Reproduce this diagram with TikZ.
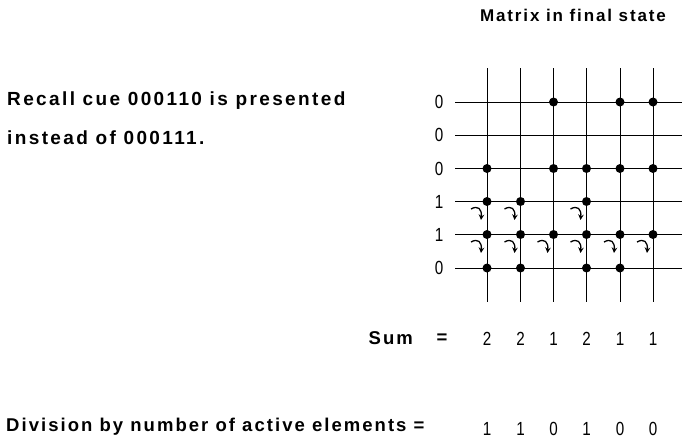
\documentclass[tikz,border=0pt]{standalone}
\usepackage{fontspec}
\setmainfont{Liberation Sans}
\newfontfamily\numfont[FakeStretch=0.8]{Liberation Sans}
\newfontfamily\boldA[LetterSpace=12.5]{Liberation Sans Bold}
\newfontfamily\boldB[LetterSpace=11]{Liberation Sans Bold}
\usetikzlibrary{arrows.meta}
\tikzset{
  gridline/.style={line width=0.9pt,black},
  dot/.style={circle,fill=black,inner sep=0pt,minimum size=9pt},
  cuetext/.style={font=\fontsize{19}{22}\selectfont\boldA,inner sep=0pt},
  boldtext/.style={font=\fontsize{18.5}{22}\selectfont\boldB,inner sep=0pt},
  numtext/.style={font=\fontsize{19}{22}\selectfont\numfont,inner sep=0pt},
  curvarrow/.style={line width=1.3pt,-{Stealth[length=5.5pt,width=5.5pt]}}
}
\begin{document}
\begin{tikzpicture}[x=1pt,y=-1pt]
\useasboundingbox (0,0) rectangle (684,440);
\fill[white] (0,0) rectangle (684,440);
% title
\node[font=\fontsize{17}{20}\selectfont\boldB,inner sep=0pt] (title) at (573,15) {Matrix in final state};
\node[cuetext,anchor=west] (cue1) at (7,101) {Recall cue 000110 is presented};
\node[cuetext,anchor=west] (cue2) at (7,138) {instead of 000111.};
% grid coordinates
\foreach \c/\x in {1/487,2/520.5,3/553.5,4/586.5,5/620,6/653}{
  \coordinate (top\c) at (\x,68);
  \coordinate (bot\c) at (\x,302);
  \draw[gridline] (top\c) -- (bot\c);
}
\foreach \r/\y/\v in {1/102/0,2/135/0,3/168.5/0,4/201.5/1,5/234.5/1,6/268/0}{
  \coordinate (left\r) at (455,\y);
  \coordinate (right\r) at (682,\y);
  \draw[gridline] (left\r) -- (right\r);
  \node[numtext] (lab\r) at (439,\y) {\v};
}
% dots
\foreach \r/\y/\cols in {1/102/{3,5,6},3/168.5/{1,3,4,5,6},4/201.5/{1,2,4},5/234.5/{1,2,3,4,5,6},6/268/{1,2,4,5}}{
  \foreach \c in \cols {
    \pgfmathsetmacro{\xx}{{0,487,520.5,553.5,586.5,620,653}[\c]}
    \node[dot] (d\r-\c) at (\xx,\y) {};
  }
}
% curved arrows
\foreach \y/\cols in {213/{1,2,4},246/{1,2,3,4,5,6}}{
  \foreach \c in \cols {
    \pgfmathsetmacro{\xx}{{0,487,520.5,553.5,586.5,620,653}[\c]-10}
    \coordinate (as) at (\xx-6,\y-4);
    \coordinate (ae) at (\xx+4,\y+7);
    \draw[curvarrow] (as) .. controls (\xx+1,\y-8) and (\xx+5,\y-4) .. (ae);
  }
}
% sums
\node[boldtext,anchor=east] (sumlab) at (413,338) {Sum};
\node[boldtext] (sumeq) at (442,339) {=};
\foreach \c/\x/\v in {1/487/2,2/520.5/2,3/553.5/1,4/586.5/2,5/620/1,6/653/1}{
  \node[numtext] (s\c) at (\x,339) {\v};
}
\node[boldtext,anchor=west] (divlab) at (6,427) {Division by number of active elements =};
\foreach \c/\x/\v in {1/487/1,2/520.5/1,3/553.5/0,4/586.5/1,5/620/0,6/653/0}{
  \node[numtext] (q\c) at (\x,429) {\v};
}
\end{tikzpicture}
\end{document}
